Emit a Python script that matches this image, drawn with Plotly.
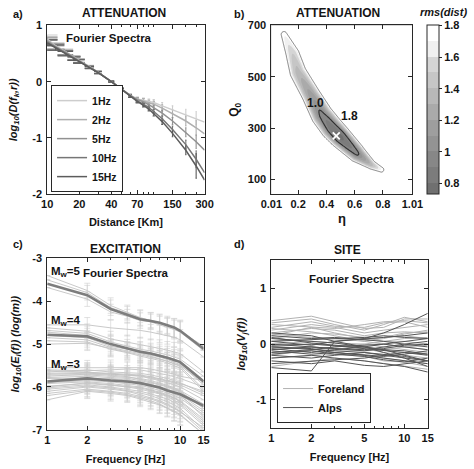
import numpy as np
import plotly.graph_objects as go

W, H = 474, 469
def px(x): return x / W
def py(y): return 1 - y / H

# ---------------- Panel a: attenuation ----------------
DIST_KM = [10, 12, 15, 18, 20, 25, 30, 40, 50, 60, 70, 80, 90, 100, 120, 150, 200, 250, 300]
FREQ_LABELS_A = ["1Hz", "2Hz", "5Hz", "10Hz", "15Hz"]
ATT_1HZ = [0.76, 0.64, 0.53, 0.43, 0.38, 0.27, 0.17, 0.0, -0.13, -0.24, -0.31, -0.33, -0.35, -0.37, -0.43, -0.50, -0.58, -0.65, -0.72]
ATT_2HZ = [0.74, 0.63, 0.52, 0.42, 0.37, 0.26, 0.17, 0.0, -0.13, -0.24, -0.31, -0.34, -0.37, -0.40, -0.47, -0.57, -0.70, -0.82, -0.93]
ATT_5HZ = [0.72, 0.62, 0.52, 0.42, 0.37, 0.26, 0.17, 0.0, -0.14, -0.25, -0.32, -0.36, -0.41, -0.46, -0.56, -0.70, -0.90, -1.07, -1.22]
ATT_10HZ = [0.70, 0.61, 0.51, 0.41, 0.36, 0.26, 0.16, 0.0, -0.14, -0.26, -0.34, -0.40, -0.46, -0.53, -0.66, -0.85, -1.12, -1.38, -1.62]
ATT_15HZ = [0.69, 0.60, 0.50, 0.41, 0.36, 0.25, 0.16, 0.0, -0.14, -0.26, -0.35, -0.42, -0.49, -0.57, -0.71, -0.92, -1.22, -1.50, -1.75]
ERR_1HZ = [0.07, 0.05, 0.05, 0.03, 0.03, 0.02, 0.02, 0.01, 0.02, 0.02, 0.03, 0.04, 0.04, 0.05, 0.06, 0.07, 0.09, 0.12, 0]
ERR_2HZ = [0.06, 0.05, 0.04, 0.03, 0.03, 0.02, 0.02, 0.01, 0.02, 0.02, 0.03, 0.04, 0.04, 0.05, 0.06, 0.07, 0.09, 0.13, 0]
ERR_5HZ = [0.06, 0.05, 0.04, 0.03, 0.03, 0.02, 0.02, 0.01, 0.02, 0.02, 0.03, 0.03, 0.04, 0.04, 0.05, 0.06, 0.08, 0.12, 0]
ERR_10HZ = [0.05, 0.05, 0.04, 0.03, 0.03, 0.02, 0.02, 0.01, 0.02, 0.02, 0.03, 0.03, 0.03, 0.04, 0.05, 0.06, 0.08, 0.15, 0]
ERR_15HZ = [0.05, 0.04, 0.04, 0.03, 0.03, 0.02, 0.02, 0.01, 0.02, 0.02, 0.03, 0.03, 0.03, 0.04, 0.05, 0.06, 0.08, 0.22, 0]
ATT_SERIES = [ATT_1HZ, ATT_2HZ, ATT_5HZ, ATT_10HZ, ATT_15HZ]
ERR_SERIES = [ERR_1HZ, ERR_2HZ, ERR_5HZ, ERR_10HZ, ERR_15HZ]
A_XTICKS = [10, 20, 40, 70, 150, 300]
A_XMINOR = [30, 50, 60, 80, 90, 100, 200, 250]

# ---------------- Panel b: misfit valley (eta, Q0) ----------------
VALLEY_ETA = [0.10, 0.16, 0.20, 0.29, 0.37, 0.44, 0.50, 0.62, 0.72, 0.79]
VALLEY_Q0 = [665, 590, 517, 430, 350, 300, 265, 200, 157, 138]
VALLEY_RMS = [1.72, 1.50, 1.35, 1.15, 0.95, 0.82, 0.76, 0.97, 1.35, 1.72]
VALLEY_HALFWIDTH_PX = [3.0, 6.9, 8.5, 9.5, 11.5, 12.0, 11.5, 9.0, 4.5, 2.5]
BEST_ETA, BEST_Q0 = [0.47], [270]
B_XTICKS = [0.01, 0.2, 0.4, 0.6, 0.8, 1.01]
B_YTICKS = [100, 300, 500, 700]
CB_TICKS = [0.8, 1.0, 1.2, 1.4, 1.6, 1.8]
CB_TEXT = ["0.8", "1", "1.2", "1.4", "1.6", "1.8"]

# ---------------- Panel c: excitation ----------------
FREQ_C = [1, 2, 3, 4, 5, 6, 7, 8, 9, 10, 15]
MW5_REF = [-3.59, -3.86, -4.18, -4.31, -4.42, -4.46, -4.50, -4.56, -4.61, -4.69, -5.11]
MW4_REF = [-4.78, -4.82, -5.00, -5.10, -5.18, -5.22, -5.27, -5.32, -5.37, -5.42, -5.87]
MW3_REF = [-5.87, -5.80, -5.85, -5.87, -5.91, -5.96, -6.01, -6.08, -6.13, -6.17, -6.44]
EVENTS_C = [
    [-3.40, -3.75, -4.10, -4.25, -4.38, -4.45, -4.52, -4.58, -4.63, -4.70, -5.05],
    [-3.50, -3.80, -4.15, -4.28, -4.40, -4.44, -4.50, -4.55, -4.62, -4.68, -5.12],
    [-3.68, -3.95, -4.25, -4.35, -4.45, -4.48, -4.55, -4.60, -4.66, -4.72, -5.15],
    [-4.55, -4.55, -4.62, -4.65, -4.68, -4.72, -4.76, -4.80, -4.84, -4.90, -5.30],
    [-4.62, -4.70, -4.88, -4.95, -5.02, -5.06, -5.10, -5.14, -5.18, -5.22, -5.65],
    [-4.68, -4.75, -4.95, -5.05, -5.12, -5.16, -5.20, -5.25, -5.30, -5.35, -5.75],
    [-4.72, -4.80, -5.00, -5.10, -5.15, -5.20, -5.25, -5.30, -5.35, -5.40, -5.85],
    [-4.80, -4.85, -5.05, -5.12, -5.20, -5.25, -5.30, -5.36, -5.42, -5.48, -5.95],
    [-4.85, -4.90, -5.08, -5.15, -5.22, -5.28, -5.34, -5.40, -5.46, -5.52, -6.05],
    [-4.92, -4.95, -5.12, -5.20, -5.28, -5.33, -5.38, -5.44, -5.50, -5.56, -6.10],
    [-5.00, -4.98, -5.10, -5.18, -5.25, -5.30, -5.35, -5.40, -5.45, -5.50, -5.90],
    [-5.55, -5.55, -5.55, -5.55, -5.55, -5.58, -5.62, -5.66, -5.70, -5.75, -5.85],
    [-5.60, -5.62, -5.60, -5.58, -5.60, -5.64, -5.68, -5.72, -5.76, -5.80, -6.00],
    [-5.65, -5.60, -5.65, -5.66, -5.68, -5.72, -5.76, -5.80, -5.85, -5.90, -6.15],
    [-5.70, -5.68, -5.70, -5.72, -5.75, -5.80, -5.85, -5.90, -5.95, -6.00, -6.30],
    [-5.72, -5.72, -5.75, -5.78, -5.80, -5.85, -5.90, -5.96, -6.02, -6.08, -6.40],
    [-5.78, -5.75, -5.78, -5.80, -5.85, -5.90, -5.95, -6.00, -6.06, -6.12, -6.45],
    [-5.80, -5.80, -5.82, -5.85, -5.90, -5.95, -6.00, -6.06, -6.12, -6.18, -6.55],
    [-5.85, -5.78, -5.85, -5.88, -5.92, -5.98, -6.04, -6.10, -6.16, -6.22, -6.60],
    [-5.90, -5.85, -5.88, -5.92, -5.96, -6.02, -6.08, -6.14, -6.20, -6.26, -6.65],
    [-5.92, -5.88, -5.92, -5.96, -6.00, -6.06, -6.12, -6.18, -6.25, -6.32, -6.75],
    [-5.98, -5.92, -5.96, -6.00, -6.05, -6.10, -6.16, -6.22, -6.30, -6.38, -6.85],
    [-6.02, -5.95, -6.00, -6.05, -6.10, -6.16, -6.22, -6.28, -6.35, -6.42, -6.90],
    [-6.05, -5.98, -6.02, -6.08, -6.14, -6.20, -6.27, -6.34, -6.42, -6.50, -7.00],
    [-6.10, -6.00, -6.05, -6.10, -6.18, -6.25, -6.32, -6.40, -6.48, -6.56, -7.05],
    [-6.15, -6.05, -6.10, -6.15, -6.22, -6.28, -6.35, -6.42, -6.50, -6.58, -6.95],
    [-6.20, -6.08, -6.12, -6.18, -6.25, -6.32, -6.40, -6.48, -6.56, -6.64, -7.10],
    [-6.30, -6.10, -6.15, -6.20, -6.28, -6.35, -6.42, -6.50, -6.58, -6.66, -7.10],
    [-5.62, -5.65, -5.70, -5.72, -5.74, -5.78, -5.82, -5.86, -5.90, -5.95, -6.20],
    [-5.75, -5.70, -5.72, -5.76, -5.82, -5.88, -5.92, -5.98, -6.04, -6.10, -6.50],
    [-5.88, -5.82, -5.80, -5.84, -5.88, -5.94, -6.00, -6.06, -6.12, -6.18, -6.70],
    [-6.00, -5.90, -5.95, -5.98, -6.02, -6.08, -6.14, -6.20, -6.26, -6.34, -6.80],
    [-5.68, -5.66, -5.68, -5.70, -5.72, -5.76, -5.80, -5.84, -5.88, -5.92, -6.10],
]
ERR_C = [None, 0.17, 0.18, 0.16, 0.18, 0.18, 0.20, 0.20, 0.22, 0.24, None]
FREQ_TICKS = [1, 2, 5, 10, 15]
FREQ_MINOR = [3, 4, 6, 7, 8, 9]

# ---------------- Panel d: site ----------------
FREQ_D = [1, 2, 3, 5, 7, 10, 15]
FORELAND = [
    [0.42, 0.50, 0.40, 0.28, 0.30, 0.45, 0.45],
    [0.38, 0.45, 0.35, 0.25, 0.35, 0.48, 0.40],
    [0.30, 0.40, 0.32, 0.30, 0.38, 0.40, 0.30],
    [0.25, 0.35, 0.30, 0.20, 0.25, 0.30, 0.35],
    [0.20, 0.28, 0.25, 0.15, 0.20, 0.22, 0.20],
    [0.15, 0.30, 0.20, 0.10, 0.12, 0.15, 0.10],
    [0.10, 0.20, 0.18, 0.12, 0.05, 0.05, 0.00],
    [0.28, 0.22, 0.15, 0.05, 0.10, 0.18, 0.25],
    [0.05, 0.10, 0.10, 0.08, 0.12, 0.20, 0.22],
    [0.00, 0.05, 0.02, 0.00, -0.05, -0.10, -0.15],
    [-0.05, 0.00, -0.02, -0.08, -0.15, -0.20, -0.25],
    [-0.10, -0.05, -0.10, -0.12, -0.10, -0.05, -0.10],
    [-0.15, -0.12, -0.15, -0.20, -0.25, -0.30, -0.35],
    [-0.25, -0.20, -0.18, -0.22, -0.30, -0.32, -0.40],
    [-0.40, -0.30, -0.25, -0.30, -0.35, -0.40, -0.45],
    [0.35, 0.30, 0.28, 0.35, 0.40, 0.42, 0.38],
    [0.18, 0.12, 0.10, 0.05, 0.00, -0.05, -0.02],
    [-0.20, -0.10, -0.05, 0.00, 0.05, 0.10, 0.12],
]
ALPS = [
    [0.10, 0.05, 0.02, -0.05, -0.10, -0.20, -0.30],
    [0.05, -0.02, 0.05, 0.10, 0.12, 0.15, 0.20],
    [0.00, -0.05, -0.08, -0.10, -0.05, 0.00, 0.05],
    [-0.05, -0.10, -0.12, -0.15, -0.18, -0.22, -0.30],
    [-0.08, -0.15, -0.10, -0.05, 0.00, 0.05, 0.10],
    [-0.12, -0.18, -0.15, -0.20, -0.25, -0.30, -0.35],
    [-0.15, -0.10, -0.05, -0.02, 0.00, -0.05, -0.10],
    [-0.20, -0.25, -0.20, -0.15, -0.20, -0.25, -0.30],
    [-0.25, -0.20, -0.25, -0.30, -0.35, -0.40, -0.50],
    [-0.42, -0.48, 0.05, 0.10, 0.20, 0.35, 0.55],
    [-0.30, -0.35, -0.30, -0.38, -0.40, -0.35, -0.30],
    [0.15, 0.10, 0.12, 0.08, 0.05, 0.00, -0.05],
    [0.20, 0.15, 0.05, -0.05, -0.15, -0.25, -0.40],
    [-0.02, 0.00, -0.03, -0.08, -0.12, -0.15, -0.18],
    [-0.10, -0.05, -0.08, -0.12, -0.08, -0.02, 0.00],
    [0.05, 0.08, 0.10, 0.12, 0.15, 0.12, 0.10],
    [-0.18, -0.12, -0.18, -0.22, -0.28, -0.32, -0.25],
    [-0.35, -0.30, -0.28, -0.25, -0.20, -0.15, -0.20],
    [0.12, 0.02, -0.02, -0.05, -0.10, -0.12, -0.18],
    [-0.05, -0.08, -0.15, -0.20, -0.22, -0.18, -0.12],
]

# ---------------- styles ----------------
FONT = "Liberation Sans, Arial, sans-serif"
AXC = "rgb(40,40,40)"
A_COLORS = ["rgb(205,205,205)", "rgb(175,175,175)", "rgb(145,145,145)", "rgb(118,118,118)", "rgb(92,92,92)"]
CAP_HALF_KM = 2.5

fig = go.Figure()

# ---- panel a
def cap_segments(xs, ys, es, half):
    X, Y = [], []
    for x, y, e in zip(xs, ys, es):
        if not e:
            continue
        X += [x, x, None, x - half, x + half, None, x - half, x + half, None]
        Y += [y - e, y + e, None, y + e, y + e, None, y - e, y - e, None]
    return X, Y

for name, vals, errs, col in zip(FREQ_LABELS_A, ATT_SERIES, ERR_SERIES, A_COLORS):
    ex, ey = cap_segments(DIST_KM, vals, errs, CAP_HALF_KM)
    fig.add_trace(go.Scatter(x=ex, y=ey, mode="lines", line=dict(color=col, width=1.1),
                             showlegend=False, hoverinfo="skip", xaxis="x", yaxis="y"))
for name, vals, col in zip(FREQ_LABELS_A, ATT_SERIES, A_COLORS):
    fig.add_trace(go.Scatter(x=DIST_KM, y=vals, mode="lines", name=name,
                             line=dict(color=col, width=1.5), xaxis="x", yaxis="y", legend="legend"))

# ---- panel b: build misfit field along the valley
PB_W, PB_H = 148.0, 173.0
ETA_RANGE = [0.01, 1.01]
Q_RANGE = [43, 700]
sx = PB_W / (ETA_RANGE[1] - ETA_RANGE[0])
sy = PB_H / (Q_RANGE[1] - Q_RANGE[0])
eta_g = np.linspace(ETA_RANGE[0], ETA_RANGE[1], 201)
q_g = np.linspace(Q_RANGE[0], Q_RANGE[1], 221)
idx = np.arange(len(VALLEY_ETA))
t = np.linspace(0, len(VALLEY_ETA) - 1, 500)
cx = np.interp(t, idx, VALLEY_ETA) * sx
cy = np.interp(t, idx, VALLEY_Q0) * sy
crms = np.interp(t, idx, VALLEY_RMS)
chw = np.interp(t, idx, VALLEY_HALFWIDTH_PX)
Z = np.zeros((len(q_g), len(eta_g)))
gx = eta_g * sx
for i, q in enumerate(q_g):
    d2 = (gx[:, None] - cx[None, :]) ** 2 + (q * sy - cy[None, :]) ** 2
    k = np.argmin(d2, axis=1)
    d = np.sqrt(d2[np.arange(len(gx)), k])
    Z[i] = crms[k] + (1.8 - crms[k]) * (d / chw[k]) ** 2
Z = np.minimum(Z, 3.0)

GRAY_SCALE = [[0.0, "rgb(112,112,112)"], [0.5, "rgb(170,170,170)"], [0.88, "rgb(224,224,224)"],
              [0.92, "rgb(255,255,255)"], [1.0, "rgb(255,255,255)"]]
fig.add_trace(go.Contour(
    x=eta_g, y=q_g, z=Z, xaxis="x2", yaxis="y2", showlegend=False,
    zmin=0.73, zmax=1.8, zauto=False, colorscale=GRAY_SCALE,
    contours=dict(start=0.8, end=1.7, size=0.1, coloring="fill", showlines=False),
    line=dict(width=0), hoverinfo="skip",
    colorbar=dict(x=px(436), xanchor="left", y=py(20), yanchor="top", len=173 / H, lenmode="fraction",
                  thickness=12, outlinecolor=AXC, outlinewidth=1, tickvals=CB_TICKS, ticktext=CB_TEXT,
                  ticks="outside", ticklen=3, tickcolor=AXC, tickfont=dict(size=11), xpad=0, ypad=0),
))
fig.add_trace(go.Contour(
    x=eta_g, y=q_g, z=Z, xaxis="x2", yaxis="y2", showscale=False, showlegend=False,
    contours=dict(start=1.8, end=1.8, size=0.1, coloring="none"),
    line=dict(color="rgb(95,95,95)", width=0.8), hoverinfo="skip"))
fig.add_trace(go.Contour(
    x=eta_g, y=q_g, z=Z, xaxis="x2", yaxis="y2", showscale=False, showlegend=False,
    contours=dict(start=1.0, end=1.0, size=0.1, coloring="none"),
    line=dict(color="rgb(45,45,45)", width=1.1), hoverinfo="skip"))
fig.add_trace(go.Scatter(x=BEST_ETA, y=BEST_Q0, mode="markers", xaxis="x2", yaxis="y2", showlegend=False,
                         marker=dict(symbol="x-thin", size=7, line=dict(color="white", width=1.8))))

# ---- panel c
for vals in EVENTS_C:
    fig.add_trace(go.Scatter(x=FREQ_C, y=vals, mode="lines", xaxis="x3", yaxis="y3", showlegend=False,
                             line=dict(color="rgb(195,195,195)", width=0.9),
                             error_y=dict(type="data", array=ERR_C, color="rgb(205,205,205)", thickness=0.6, width=3)))
for vals in [MW5_REF, MW4_REF, MW3_REF]:
    fig.add_trace(go.Scatter(x=FREQ_C, y=vals, mode="lines", xaxis="x3", yaxis="y3", showlegend=False,
                             line=dict(color="rgb(125,125,125)", width=2.6)))

# ---- panel d
for i, vals in enumerate(FORELAND):
    fig.add_trace(go.Scatter(x=FREQ_D, y=vals, mode="lines", xaxis="x4", yaxis="y4", name="Foreland",
                             showlegend=(i == 0), legend="legend2", legendgroup="f",
                             line=dict(color="rgb(178,178,178)", width=1)))
for i, vals in enumerate(ALPS):
    fig.add_trace(go.Scatter(x=FREQ_D, y=vals, mode="lines", xaxis="x4", yaxis="y4", name="Alps",
                             showlegend=(i == 0), legend="legend2", legendgroup="a",
                             line=dict(color="rgb(85,85,85)", width=1)))

# ---------------- axes ----------------
def ax_common(**kw):
    d = dict(showline=True, linecolor=AXC, linewidth=1, mirror="ticks", ticks="inside", ticklen=4,
             tickcolor=AXC, showgrid=False, zeroline=False, tickfont=dict(size=11))
    d.update(kw)
    return d

TITLE_F = dict(size=11)
fig.update_layout(
    xaxis=ax_common(domain=[px(38), px(203)], type="log", range=[1, np.log10(300)], anchor="y",
                    tickvals=A_XTICKS, ticktext=[str(v) for v in A_XTICKS],
                    minor=dict(tickvals=A_XMINOR, ticks="inside", ticklen=2, tickcolor=AXC),
                    title=dict(text="Distance [Km]", font=TITLE_F, standoff=9)),
    yaxis=ax_common(domain=[py(193), py(20)], range=[-2, 1], anchor="x", ticklabelstandoff=2,
                    tickvals=[-2, -1, 0, 1], ticktext=["-2", "-1", "0", "1"],
                    title=dict(text="<i>log<sub>10</sub>(D(f<sub>k</sub>,r))</i>", font=TITLE_F, standoff=12)),
    xaxis2=ax_common(domain=[px(273), px(421)], range=ETA_RANGE, anchor="y2",
                     tickvals=B_XTICKS, ticktext=["0.01", "0.2", "0.4", "0.6", "0.8", "1.01"],
                     title=dict(text="η", font=dict(size=13), standoff=4)),
    yaxis2=ax_common(domain=[py(193), py(20)], range=Q_RANGE, anchor="x2", ticklabelstandoff=2,
                     tickvals=B_YTICKS, ticktext=[str(v) for v in B_YTICKS],
                     title=dict(text="Q<sub>0</sub>", font=dict(size=12), standoff=6)),
    xaxis3=ax_common(domain=[px(38), px(202)], type="log", range=[0, np.log10(15)], anchor="y3",
                     tickvals=FREQ_TICKS, ticktext=[str(v) for v in FREQ_TICKS],
                     minor=dict(tickvals=FREQ_MINOR, ticks="inside", ticklen=2, tickcolor=AXC),
                     title=dict(text="Frequency [Hz]", font=TITLE_F, standoff=10)),
    yaxis3=ax_common(domain=[py(435), py(259)], range=[-7, -3], anchor="x3", ticklabelstandoff=2,
                     tickvals=[-7, -6, -5, -4, -3], ticktext=["-7", "-6", "-5", "-4", "-3"],
                     title=dict(text="<i>log<sub>10</sub>(E<sub>i</sub>(f)) (log(m))</i>", font=TITLE_F, standoff=10)),
    xaxis4=ax_common(domain=[px(273), px(437)], type="log", range=[0, np.log10(15)], anchor="y4",
                     tickvals=FREQ_TICKS, ticktext=[str(v) for v in FREQ_TICKS],
                     minor=dict(tickvals=FREQ_MINOR, ticks="inside", ticklen=2, tickcolor=AXC),
                     title=dict(text="Frequency [Hz]", font=TITLE_F, standoff=10)),
    yaxis4=ax_common(domain=[py(433), py(261)], range=[-1.5, 1.5], anchor="x4", ticklabelstandoff=2,
                     tickvals=[-1, 0, 1], ticktext=["-1", "0", "1"],
                     title=dict(text="<i>log<sub>10</sub>(V<sub>j</sub>(f))</i>", font=TITLE_F, standoff=8)),
)

# ---------------- annotations ----------------
ann = []
def text(x, y, s, size=11, xanchor="center", yanchor="middle", **kw):
    ann.append(dict(x=px(x), y=py(y), xref="paper", yref="paper", text=s, showarrow=False,
                    xanchor=xanchor, yanchor=yanchor, font=dict(size=size), **kw))

text(0, 8, "a)", xanchor="left")
text(232, 8, "b)", xanchor="left")
text(0, 244, "c)", xanchor="left")
text(232, 244, "d)", xanchor="left")
text(118, 7, "ATTENUATION", size=12)
text(343, 7, "ATTENUATION", size=12)
text(120, 249, "EXCITATION", size=12)
text(353, 250, "SITE", size=12)
text(103, 33, "Fourier Spectra", size=11.5)
text(121, 274, "Fourier Spectra", size=11.5)
text(358, 280, "Fourier Spectra", size=11.5)
text(40, 273, "M<sub>w</sub>=5", xanchor="left", size=11.5)
text(40, 323, "M<sub>w</sub>=4", xanchor="left", size=11.5)
text(40, 368, "M<sub>w</sub>=3", xanchor="left", size=11.5)
text(427, 6, "<i>rms(dist)</i>", xanchor="left")
for s, ex, qy in [("1.0", 0.32, 396), ("1.8", 0.565, 347)]:
    ann.append(dict(x=ex, y=qy, xref="x2", yref="y2", text=s, showarrow=False, font=dict(size=12)))

fig.update_layout(
    width=W, height=H, margin=dict(l=0, r=0, t=0, b=0),
    paper_bgcolor="white", plot_bgcolor="white",
    font=dict(family=FONT, size=11, color="rgb(20,20,20)", weight="bold"),
    annotations=ann,
    legend=dict(x=px(42), y=py(191), xanchor="left", yanchor="bottom", bgcolor="white",
                bordercolor=AXC, borderwidth=1, font=dict(size=10.5), itemwidth=30, tracegroupgap=0),
    legend2=dict(x=px(279), y=py(428), xanchor="left", yanchor="bottom", bgcolor="white",
                 bordercolor=AXC, borderwidth=1, font=dict(size=11), itemwidth=30, tracegroupgap=0),
)

fig.write_html("out.html")
